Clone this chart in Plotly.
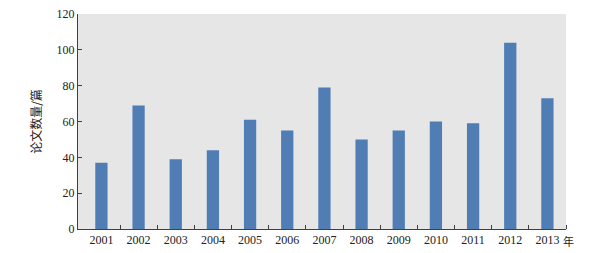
import plotly.graph_objects as go

years = [2001, 2002, 2003, 2004, 2005, 2006, 2007, 2008, 2009, 2010, 2011, 2012, 2013]
papers = [37, 69, 39, 44, 61, 55, 79, 50, 55, 60, 59, 104, 73]
y_ticks = [0, 20, 40, 60, 80, 100, 120]

fig = go.Figure()
fig.add_trace(go.Bar(x=years, y=papers, marker_color="#4f7db4", marker_line_width=0, width=0.33))

fig.update_layout(
    width=611, height=253,
    margin=dict(l=78, r=45, t=14, b=24),
    paper_bgcolor="white",
    plot_bgcolor="#e6e6e6",
    showlegend=False,
    font=dict(family="Liberation Serif", size=12, color="#222222"),
    xaxis=dict(
        range=[2000.37, 2013.5],
        tickvals=years,
        ticktext=[str(y) for y in years],
        ticks="",
        showgrid=False,
        zeroline=False,
        showline=True,
        linecolor="#404040",
        linewidth=1,
        automargin=False,
        tickfont=dict(family="Liberation Serif", size=12, color="#222222"),
        minor=dict(tickvals=[y + 0.5 for y in years], ticks="inside", ticklen=4,
                   tickcolor="#404040", showgrid=False),
        fixedrange=True,
    ),
    yaxis=dict(
        range=[0, 120],
        tickvals=y_ticks,
        ticks="inside",
        ticklen=4,
        tickcolor="#404040",
        showgrid=False,
        zeroline=False,
        showline=True,
        linecolor="#404040",
        linewidth=1,
        automargin=False,
        tickfont=dict(family="Liberation Serif", size=12, color="#222222"),
        title=dict(text="论文数量/篇", font=dict(family="Noto Sans CJK SC", size=12, color="#222222"),
                   standoff=12),
    ),
)

fig.add_annotation(text="年", x=1, xref="paper", y=0, yref="paper", xanchor="left", yanchor="top",
                   xshift=-5, yshift=-2, showarrow=False,
                   font=dict(family="Noto Sans CJK SC", size=11, color="#222222"))

fig.write_html("out.html")
